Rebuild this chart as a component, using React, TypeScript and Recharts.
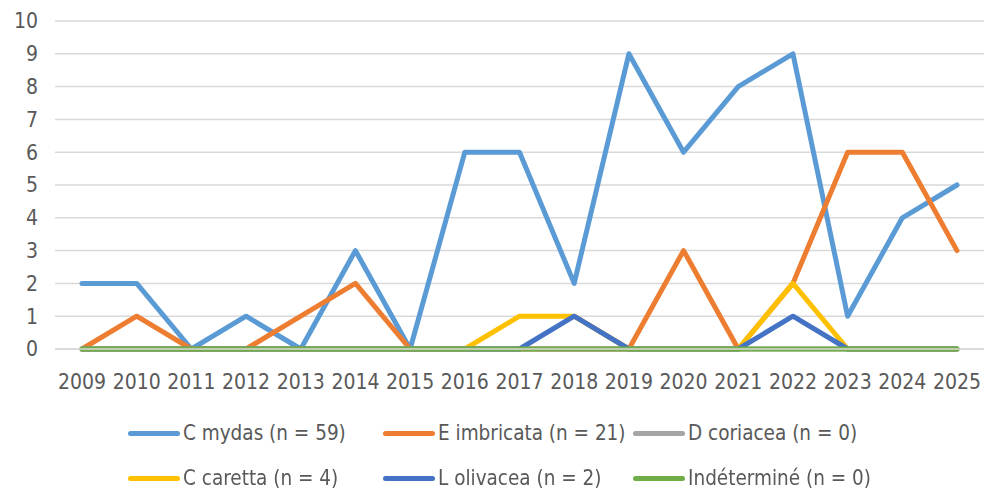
import React from 'react';
import { LineChart, Line, XAxis, YAxis, CartesianGrid, Legend } from 'recharts';

const years = ['2009', '2010', '2011', '2012', '2013', '2014', '2015', '2016', '2017', '2018', '2019', '2020', '2021', '2022', '2023', '2024', '2025'];
const cMydas = [2, 2, 0, 1, 0, 3, 0, 6, 6, 2, 9, 6, 8, 9, 1, 4, 5];
const eImbricata = [0, 1, 0, 0, 1, 2, 0, 0, 0, 0, 0, 3, 0, 2, 6, 6, 3];
const dCoriacea = [0, 0, 0, 0, 0, 0, 0, 0, 0, 0, 0, 0, 0, 0, 0, 0, 0];
const cCaretta = [0, 0, 0, 0, 0, 0, 0, 0, 1, 1, 0, 0, 0, 2, 0, 0, 0];
const lOlivacea = [0, 0, 0, 0, 0, 0, 0, 0, 0, 1, 0, 0, 0, 1, 0, 0, 0];
const indetermine = [0, 0, 0, 0, 0, 0, 0, 0, 0, 0, 0, 0, 0, 0, 0, 0, 0];
const yTicks = [0, 1, 2, 3, 4, 5, 6, 7, 8, 9, 10];

const series = [
    { key: 'cMydas', name: 'C mydas (n = 59)', color: '#5B9BD5' },
    { key: 'eImbricata', name: 'E imbricata (n = 21)', color: '#ED7D31' },
    { key: 'dCoriacea', name: 'D coriacea (n = 0)', color: '#A5A5A5' },
    { key: 'cCaretta', name: 'C caretta (n = 4)', color: '#FFC000' },
    { key: 'lOlivacea', name: 'L olivacea (n = 2)', color: '#4472C4' },
    { key: 'indetermine', name: 'Indéterminé (n = 0)', color: '#70AD47' },
];

const data = years.map((year, i) => ({
    year,
    cMydas: cMydas[i],
    eImbricata: eImbricata[i],
    dCoriacea: dCoriacea[i],
    cCaretta: cCaretta[i],
    lOlivacea: lOlivacea[i],
    indetermine: indetermine[i],
}));

const font = '"Liberation Sans Narrow", "DejaVu Sans Condensed", sans-serif';
const textColor = '#595959';

const LegendContent = () => (
    <div style={{ position: 'relative', height: 96, fontFamily: font, fontSize: 20.5, color: textColor }}>
        {series.map((s, i) => {
            const col = i % 3;
            const row = Math.floor(i / 3);
            const left = [128, 383, 633][col];
            const top = 44 + row * 45;
            return (
                <div
                    key={s.key}
                    style={{ position: 'absolute', left, top: top - 14, height: 28, display: 'flex', alignItems: 'center', whiteSpace: 'nowrap' }}
                >
                    <span style={{ display: 'inline-block', width: 52, height: 5, borderRadius: 3, background: s.color, marginRight: 3 }} />
                    <span>{s.name}</span>
                </div>
            );
        })}
    </div>
);

export default function App() {
    return (
        <div style={{ position: 'fixed', left: 0, top: 0, width: 984, height: 490, background: '#fff' }}>
            <LineChart width={984} height={490} data={data} margin={{ top: 21, right: 0, left: 0, bottom: 5 }}>
                <CartesianGrid vertical={false} stroke="#D9D9D9" strokeWidth={1.5} />
                <XAxis
                    dataKey="year"
                    height={40}
                    padding={{ left: 27, right: 27 }}
                    axisLine={{ stroke: '#D9D9D9', strokeWidth: 1.5 }}
                    tickLine={false}
                    tickSize={0}
                    tickMargin={25}
                    interval={0}
                    tick={{ fill: textColor, fontSize: 21, fontFamily: font }}
                />
                <YAxis
                    width={55}
                    domain={[0, 10]}
                    ticks={yTicks}
                    axisLine={false}
                    tickLine={false}
                    tickSize={0}
                    tickMargin={17}
                    tick={{ fill: textColor, fontSize: 21, fontFamily: font }}
                />
                {series.map((s) => (
                    <Line
                        key={s.key}
                        type="linear"
                        dataKey={s.key}
                        name={s.name}
                        stroke={s.color}
                        strokeWidth={5}
                        strokeLinejoin="round"
                        strokeLinecap="round"
                        dot={false}
                        activeDot={false}
                        isAnimationActive={false}
                    />
                ))}
                <Legend verticalAlign="bottom" height={96} content={<LegendContent />} />
            </LineChart>
        </div>
    );
}
